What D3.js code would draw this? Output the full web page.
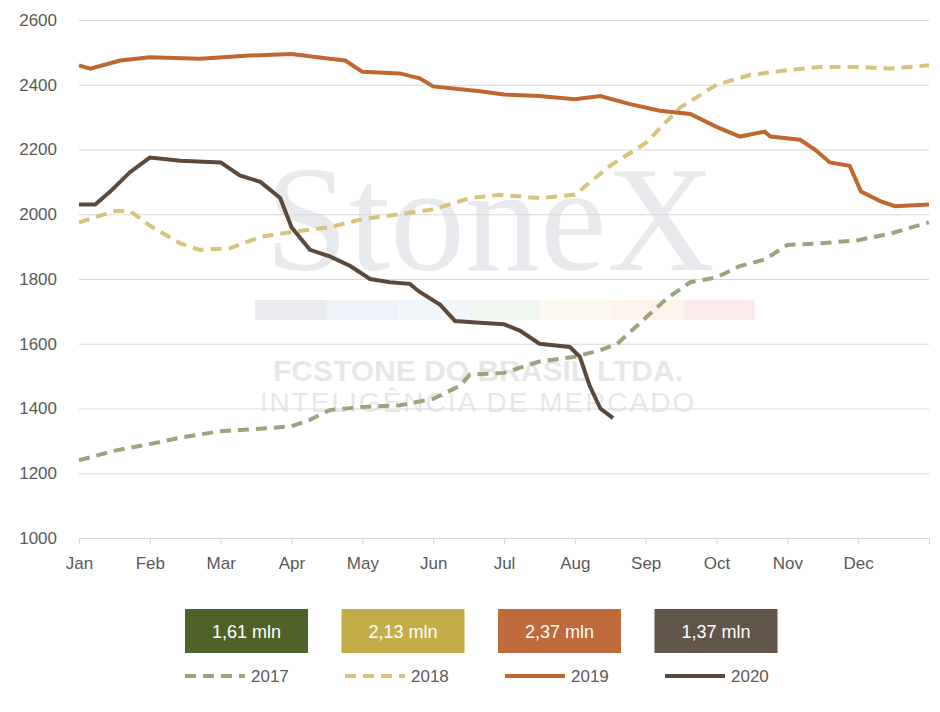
<!DOCTYPE html>
<html>
<head>
<meta charset="utf-8" />
<script src="https://cdn.jsdelivr.net/npm/d3@7"></script>
<style>
  body { margin: 0; background: #fff; }
  svg { font-family: "Liberation Sans", Arial, sans-serif; }
  .axis text { fill: #595959; font-size: 17px; }
  .axis path, .axis line { stroke: #d9d9d9; }
</style>
</head>
<body>
<div id="chart"></div>
<script>
// month position (0 = Jan 1, 12 = Dec 31) and value
var months = ["Jan", "Feb", "Mar", "Apr", "May", "Jun", "Jul", "Aug", "Sep", "Oct", "Nov", "Dec"]
var yTicks = [1000, 1200, 1400, 1600, 1800, 2000, 2200, 2400, 2600]

var s2017 = [[0,1240],[0.51,1270],[1,1290],[1.43,1310],[2,1330],[2.41,1335],[3,1345],[3.26,1365],
  [3.54,1395],[4,1405],[4.53,1410],[5,1430],[5.38,1470],[5.52,1505],[6,1510],[6.5,1545],[7,1560],
  [7.36,1580],[7.6,1600],[8,1680],[8.3,1740],[8.63,1790],[9,1805],[9.33,1840],[9.68,1860],
  [10,1905],[10.46,1910],[11,1920],[11.45,1940],[12,1975]]
var s2018 = [[0,1975],[0.51,2010],[0.72,2010],[1,1965],[1.43,1910],[1.71,1890],[2.13,1895],
  [2.56,1930],[3,1945],[3.54,1960],[4,1985],[4.53,2000],[5,2015],[5.52,2050],[5.94,2060],
  [6.5,2050],[7,2060],[7.5,2150],[8,2220],[8.49,2330],[9,2400],[9.47,2430],[10,2445],
  [10.46,2455],[11,2455],[11.45,2450],[12,2460]]
var s2019 = [[0,2460],[0.16,2450],[0.58,2475],[1,2485],[1.71,2480],[2.41,2490],[3,2495],
  [3.54,2480],[3.76,2475],[4,2440],[4.53,2435],[4.81,2420],[5,2395],[5.66,2380],[6,2370],
  [6.5,2365],[7,2355],[7.36,2365],[7.78,2340],[8.2,2320],[8.63,2310],[9,2270],[9.33,2240],
  [9.68,2255],[9.76,2240],[10.18,2230],[10.39,2200],[10.6,2160],[10.88,2150],[11.04,2070],
  [11.32,2040],[11.52,2025],[12,2030]]
var s2020 = [[0,2030],[0.23,2030],[0.44,2070],[0.72,2130],[1,2175],[1.43,2165],[2,2160],
  [2.27,2120],[2.56,2100],[2.84,2050],[3,1960],[3.26,1890],[3.54,1870],[3.83,1840],[4.11,1800],
  [4.39,1790],[4.67,1785],[4.81,1760],[5.1,1720],[5.31,1670],[5.66,1665],[6,1660],[6.23,1640],
  [6.5,1600],[6.93,1590],[7.07,1560],[7.21,1470],[7.36,1400],[7.54,1370]]

var seriesNames = ["2017", "2018", "2019", "2020"]
var seriesData = [s2017, s2018, s2019, s2020]
var lineColors = ["#9aa57c", "#d6c47c", "#c0672f", "#5b4a3c"]
var dashed = [true, true, false, false]
var totals = ["1,61 mln", "2,13 mln", "2,37 mln", "1,37 mln"]
var boxColors = ["#4f6228", "#c4ac48", "#c0693a", "#625549"]

var W = 940, H = 712
var margin = { top: 20, left: 79, right: 11, bottom: 174 }
var width = W - margin.left - margin.right
var height = H - margin.top - margin.bottom

var svg = d3.select("#chart").append("svg").attr("width", W).attr("height", H)

// faint watermark
var wm = svg.append("g").attr("opacity", 0.1)
wm.append("text").attr("x", 490).attr("y", 270).attr("text-anchor", "middle")
  .attr("font-family", "Liberation Serif, serif").attr("font-size", 150).attr("fill", "#2f3b55").text("StoneX")
var stripe = ["#3d4f7c", "#5a7fc0", "#7fb0d8", "#6fb07a", "#e6d86a", "#f0a85a", "#d9534f"]
stripe.forEach(function (c, i) {
  wm.append("rect").attr("x", 255 + i * 71.4).attr("y", 300).attr("width", 71.4).attr("height", 20).attr("fill", c)
})
wm.append("text").attr("x", 478).attr("y", 381).attr("text-anchor", "middle").attr("font-size", 30)
  .attr("font-weight", "bold").attr("fill", "#222").text("FCSTONE DO BRASIL LTDA.")
wm.append("text").attr("x", 478).attr("y", 412).attr("text-anchor", "middle").attr("font-size", 28)
  .attr("fill", "#222").attr("letter-spacing", 2).text("INTELIGÊNCIA DE MERCADO")

var g = svg.append("g").attr("transform", "translate(" + margin.left + "," + margin.top + ")")

var x = d3.scaleLinear().domain([0, 12]).range([0, width])
var y = d3.scaleLinear().domain([1000, 2600]).range([height, 0])

// gridlines + y axis
g.append("g").attr("class", "axis")
  .call(d3.axisLeft(y).tickValues(yTicks).tickSize(-width).tickPadding(22).tickFormat(d3.format("d")))
  .call(function (a) { a.select(".domain").remove() })

// x axis
var xa = g.append("g").attr("class", "axis").attr("transform", "translate(0," + height + ")")
  .call(d3.axisBottom(x).tickValues(d3.range(0, 13)).tickSize(6).tickFormat(function (d) { return months[d] || "" }))
xa.selectAll("text").attr("dy", "1.3em")

var line = d3.line().x(function (d) { return x(d[0]) }).y(function (d) { return y(d[1]) })

seriesData.forEach(function (s, i) {
  g.append("path").datum(s).attr("d", line).attr("fill", "none")
    .attr("stroke", lineColors[i]).attr("stroke-width", 4)
    .attr("stroke-dasharray", dashed[i] ? "11,7" : null)
})

// totals boxes
totals.forEach(function (t, i) {
  var bx = 185 + i * 156.5
  svg.append("rect").attr("x", bx).attr("y", 609).attr("width", 123).attr("height", 44).attr("fill", boxColors[i])
  svg.append("text").attr("x", bx + 61.5).attr("y", 638).attr("text-anchor", "middle")
    .attr("fill", "#fff").attr("font-size", 18).text(t)
})

// legend
var legX = [185, 345, 505, 665]
seriesNames.forEach(function (n, i) {
  svg.append("line").attr("x1", legX[i]).attr("x2", legX[i] + 60).attr("y1", 676).attr("y2", 676)
    .attr("stroke", lineColors[i]).attr("stroke-width", 4).attr("stroke-dasharray", dashed[i] ? "11,7" : null)
  svg.append("text").attr("x", legX[i] + 66).attr("y", 682).attr("fill", "#595959").attr("font-size", 17).text(n)
})
</script>
</body>
</html>
